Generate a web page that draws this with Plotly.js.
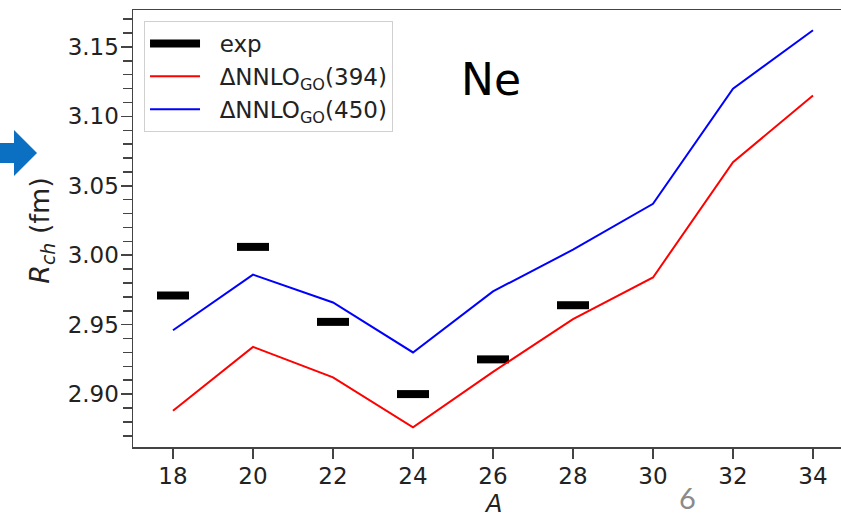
<!DOCTYPE html>
<html>
<head>
<meta charset="utf-8">
<script src="https://cdn.plot.ly/plotly-3.0.1.min.js"></script>
<style>
  html, body { margin: 0; padding: 0; width: 841px; height: 513px; overflow: hidden; background: #fff; }
  #chart { position: absolute; left: 0; top: 0; }
  #arrow { position: absolute; left: 0; top: 0; }
  #pagenum { position: absolute; left: 679px; top: 487px; line-height: 22px; font-family: Lato, "Open Sans", sans-serif; font-size: 29px; color: #8a8a8a; }
</style>
</head>
<body>
<div id="chart"></div>
<svg id="arrow" width="40" height="200"><polygon points="0,143 14,143 14,130 37,153 14,176 14,163 0,163" fill="#0b6fc2"/></svg>
<div id="pagenum">6</div>
<script>
// ---- data ----
const massNumbers = [18, 20, 22, 24, 26, 28, 30, 32, 34];
const rch394 = [2.888, 2.934, 2.912, 2.876, 2.916, 2.954, 2.984, 3.067, 3.115];
const rch450 = [2.946, 2.986, 2.966, 2.930, 2.974, 3.004, 3.037, 3.120, 3.162];
const expMass = [18, 20, 22, 24, 26, 28];
const expRch = [2.971, 3.006, 2.952, 2.900, 2.925, 2.964];
const xTickVals = [18, 20, 22, 24, 26, 28, 30, 32, 34];
const yTickVals = [2.90, 2.95, 3.00, 3.05, 3.10, 3.15];
const xTitle = "<i>A</i>";
const yTitle = "<i>R<sub>ch</sub></i> (fm)";

// experimental values drawn as short horizontal bars centred on each A
const halfBar = 0.4;
const expX = [], expY = [];
expMass.forEach((a, i) => {
  expX.push(a - halfBar, a + halfBar, null);
  expY.push(expRch[i], expRch[i], null);
});

const font = "DejaVu Sans, sans-serif";
const frameColor = "#444";
const pad = "&nbsp;&nbsp;";

const traces = [
  { x: expX, y: expY, mode: "lines", name: pad + "exp",
    line: { color: "#000", width: 8 }, connectgaps: false },
  { x: massNumbers, y: rch394, mode: "lines", name: pad + "ΔNNLO<sub>GO</sub>(394)",
    line: { color: "#ff0000", width: 2 } },
  { x: massNumbers, y: rch450, mode: "lines", name: pad + "ΔNNLO<sub>GO</sub>(450)",
    line: { color: "#0000ff", width: 2 } }
];

const layout = {
  width: 870, height: 513,
  margin: { l: 133, r: 17, t: 10, b: 66 },
  paper_bgcolor: "#fff", plot_bgcolor: "#fff",
  font: { family: font, size: 22, color: "#222" },
  showlegend: true,
  legend: {
    x: 0.0153, y: 0.975, xanchor: "left", yanchor: "top",
    bgcolor: "rgba(255,255,255,0.8)", bordercolor: "#d0d0d0", borderwidth: 1,
    font: { family: font, size: 23, color: "#222" },
    itemwidth: 50, tracegroupgap: 0
  },
  xaxis: {
    range: [17, 35], tickvals: xTickVals, ticktext: xTickVals.map(String),
    showgrid: false, zeroline: false,
    showline: true, linecolor: frameColor, linewidth: 1.5, mirror: true,
    ticks: "outside", ticklen: 10, tickwidth: 1.5, tickcolor: frameColor,
    ticklabelstandoff: -2,
    tickfont: { family: font, size: 23, color: "#222" },
    automargin: false
  },
  yaxis: {
    range: [2.8619, 3.1766], tickvals: yTickVals, ticktext: yTickVals.map(v => v.toFixed(2)),
    showgrid: false, zeroline: false,
    showline: true, linecolor: frameColor, linewidth: 1.5, mirror: true,
    ticks: "outside", ticklen: 11, tickwidth: 1.5, tickcolor: frameColor,
    ticklabelstandoff: -3,
    tickfont: { family: font, size: 23, color: "#222" },
    minor: { dtick: 0.01, tick0: 2.90, ticks: "outside", ticklen: 9, tickwidth: 1.5, tickcolor: frameColor, showgrid: false },
    automargin: false
  },
  annotations: [
    { text: "Ne", xref: "paper", yref: "paper", x: 0.497, y: 0.842,
      xanchor: "center", yanchor: "middle", showarrow: false,
      font: { family: font, size: 44, color: "#000" } },
    { text: xTitle, xref: "paper", yref: "paper", x: 0.5, y: -0.1305,
      xanchor: "center", yanchor: "middle", showarrow: false,
      font: { family: font, size: 24, color: "#222" } },
    { text: yTitle, xref: "paper", yref: "paper", x: -0.1264, y: 0.497,
      xanchor: "center", yanchor: "middle", textangle: -90, showarrow: false,
      font: { family: font, size: 27, color: "#222" } }
  ]
};

Plotly.newPlot("chart", traces, layout, { displayModeBar: false, staticPlot: true });
</script>
</body>
</html>
